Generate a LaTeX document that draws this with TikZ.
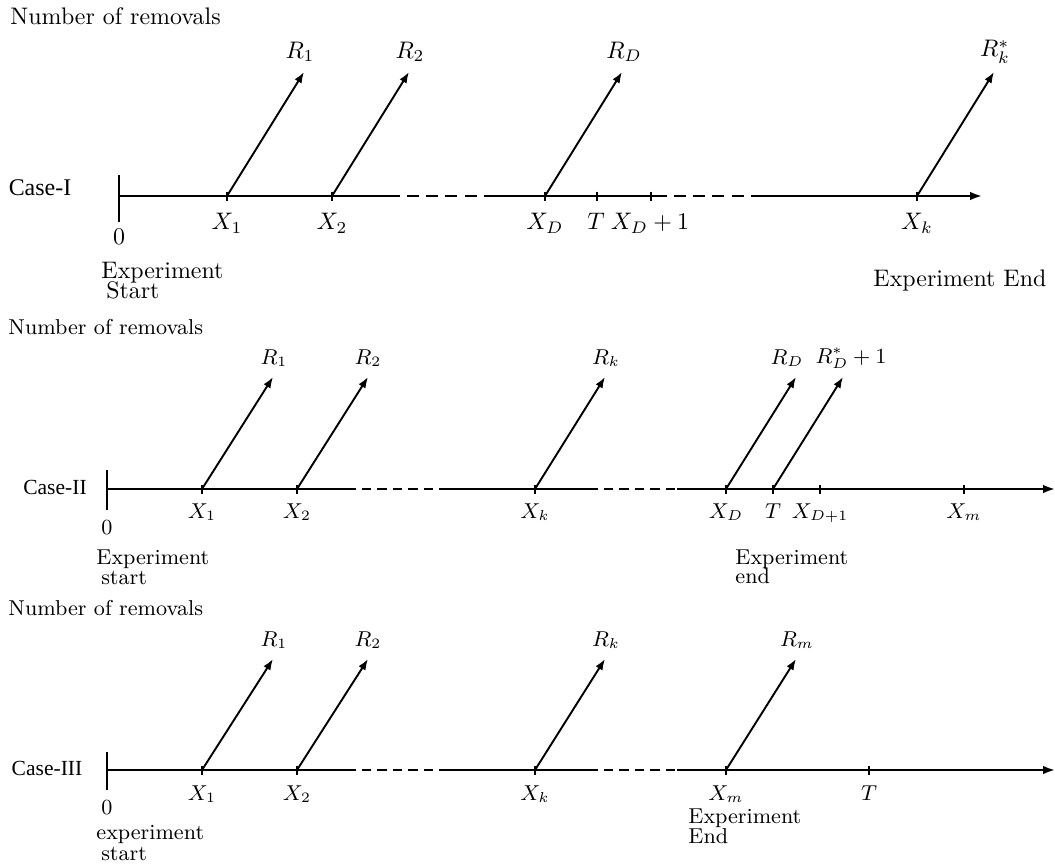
\documentclass[tikz,border=0pt]{standalone}
\usepackage{fontspec}
\newfontfamily\casefont{Liberation Serif}
\usetikzlibrary{arrows.meta}
\begin{document}
\begin{tikzpicture}[x=0.418pt,y=-0.418pt,
  axisline/.style={line width=0.9pt},
  dashsegA/.style={line width=0.9pt, dash pattern=on 5pt off 3pt},
  dashsegB/.style={line width=0.9pt, dash pattern=on 4pt off 2.5pt},
  axisarrow/.style={line width=0.9pt,-{Latex[length=5pt,width=3.6pt]}},
  rem/.style={line width=0.8pt,-{Latex[length=4.6pt,width=3.4pt]}},
  tickmark/.style={line width=0.8pt},
  lbl/.style={inner sep=0pt},
  lblS/.style={inner sep=0pt,font=\small},
  twoline/.style={inner sep=0pt,align=left,anchor=west}
]
\useasboundingbox (0,0) rectangle (1055,867);

%% ---------------- Case I ----------------
\node[lbl,anchor=west] (nr1) at (10,16) {Number of removals};
\node[lbl,font=\casefont] (case1) at (40,188) {Case-I};
\coordinate (o1) at (119,196);
\coordinate (a1) at (388,196);
\coordinate (b1) at (490,196);
\coordinate (c1) at (655,196);
\coordinate (d1) at (755,196);
\coordinate (e1) at (982,196);
\draw[tickmark] (119,175) -- (119,222);
\draw[axisline] (o1) -- (a1);
\draw[dashsegA] (a1) -- (b1);
\draw[axisline] (b1) -- (c1);
\draw[dashsegA] (c1) -- (d1);
\draw[axisarrow] (d1) -- (e1);
\foreach \n/\x in {x1/227,x2/332,xd/545,t/597,xd1/651,xk/917}{
  \coordinate (I\n) at (\x,196);
  \draw[tickmark] (\x,191.5) -- (\x,200.5);
}
\coordinate (IR1) at (304,72);
\coordinate (IR2) at (409,72);
\coordinate (IRD) at (622,72);
\coordinate (IRk) at (994,72);
\draw[rem] (Ix1) -- (IR1);
\draw[rem] (Ix2) -- (IR2);
\draw[rem] (Ixd) -- (IRD);
\draw[rem] (Ixk) -- (IRk);
\node[lbl] (lR1) at (300,52) {$R_1$};
\node[lbl] (lR2) at (410,52) {$R_2$};
\node[lbl] (lRD) at (624,52) {$R_D$};
\node[lbl] (lRk) at (995,52) {$R_k^*$};
\node[lbl,anchor=north] (lX1) at (227,213) {$X_1$};
\node[lbl,anchor=north] (lX2) at (332,213) {$X_2$};
\node[lbl,anchor=north] (lXD) at (545,213) {$X_D$};
\node[lbl,anchor=north] (lT)  at (596,213) {$T$};
\node[lbl,anchor=north] (lXD1) at (650,213) {$X_D+1$};
\node[lbl,anchor=north] (lXk) at (917,213) {$X_k$};
\node[lbl,anchor=north] (z1) at (119,229) {$0$};
\node[twoline] (st1) at (101,281) {Experiment\\[-3.6pt]\hspace{2pt}Start};
\node[lbl,anchor=west] (en1) at (873,281) {Experiment End};

%% ---------------- Case II ----------------
\node[lblS,anchor=west] (nr2) at (8,327) {Number of removals};
\node[lbl,font=\casefont\small] (case2) at (55,487) {Case-II};
\coordinate (o2) at (107,489);
\coordinate (a2) at (346,489);
\coordinate (b2) at (440,489);
\coordinate (c2) at (588,489);
\coordinate (d2) at (677,489);
\coordinate (e2) at (1055,489);
\draw[tickmark] (107,470) -- (107,510);
\draw[axisline] (o2) -- (a2);
\draw[dashsegB] (a2) -- (b2);
\draw[axisline] (b2) -- (c2);
\draw[dashsegB] (c2) -- (d2);
\draw[axisarrow] (d2) -- (e2);
\foreach \n/\x in {x1/202,x2/297,xk/535,xd/726,t/773,xd1/820,xm/964}{
  \coordinate (II\n) at (\x,489);
  \draw[tickmark] (\x,485) -- (\x,493.5);
}
\coordinate (IIR1) at (273,377);
\coordinate (IIR2) at (368,377);
\coordinate (IIRk) at (605,377);
\coordinate (IIRD) at (796,377);
\coordinate (IIRD1) at (843,377);
\draw[rem] (IIx1) -- (IIR1);
\draw[rem] (IIx2) -- (IIR2);
\draw[rem] (IIxk) -- (IIRk);
\draw[rem] (IIxd) -- (IIRD);
\draw[rem] (IIt) -- (IIRD1);
\node[lblS] (mR1) at (274,358) {$R_1$};
\node[lblS] (mR2) at (368,358) {$R_2$};
\node[lblS] (mRk) at (606,358) {$R_k$};
\node[lblS] (mRD) at (787,358) {$R_D$};
\node[lblS] (mRD1) at (851,358) {$R_D^{*}+1$};
\node[lblS,anchor=north] (mX1) at (202,503) {$X_1$};
\node[lblS,anchor=north] (mX2) at (297,503) {$X_2$};
\node[lblS,anchor=north] (mXk) at (535,503) {$X_k$};
\node[lblS,anchor=north] (mXD) at (726,503) {$X_D$};
\node[lblS,anchor=north] (mT)  at (773,503) {$T$};
\node[lblS,anchor=north] (mXD1) at (820,503) {$X_{D+1}$};
\node[lblS,anchor=north] (mXm) at (964,503) {$X_m$};
\node[lblS,anchor=north] (z2) at (107,520) {$0$};
\node[twoline,font=\small] (st2) at (96,567) {Experiment\\[-2.6pt]\hspace{2pt}start};
\node[twoline,font=\small] (en2) at (735,567) {Experiment\\[-3.2pt]end};

%% ---------------- Case III ----------------
\node[lblS,anchor=west] (nr3) at (8,608) {Number of removals};
\node[lbl,font=\casefont\small] (case3) at (47,768) {Case-III};
\coordinate (o3) at (107,770);
\coordinate (a3) at (346,770);
\coordinate (b3) at (440,770);
\coordinate (c3) at (588,770);
\coordinate (d3) at (677,770);
\coordinate (e3) at (1055,770);
\draw[tickmark] (107,752) -- (107,790);
\draw[axisline] (o3) -- (a3);
\draw[dashsegB] (a3) -- (b3);
\draw[axisline] (b3) -- (c3);
\draw[dashsegB] (c3) -- (d3);
\draw[axisarrow] (d3) -- (e3);
\foreach \n/\x in {x1/202,x2/297,xk/535,xm/726,t/869}{
  \coordinate (III\n) at (\x,770);
  \draw[tickmark] (\x,766) -- (\x,774.5);
}
\coordinate (IIIR1) at (273,659);
\coordinate (IIIR2) at (368,659);
\coordinate (IIIRk) at (605,659);
\coordinate (IIIRm) at (796,659);
\draw[rem] (IIIx1) -- (IIIR1);
\draw[rem] (IIIx2) -- (IIIR2);
\draw[rem] (IIIxk) -- (IIIRk);
\draw[rem] (IIIxm) -- (IIIRm);
\node[lblS] (pR1) at (274,640) {$R_1$};
\node[lblS] (pR2) at (368,640) {$R_2$};
\node[lblS] (pRk) at (606,640) {$R_k$};
\node[lblS] (pRm) at (797,640) {$R_m$};
\node[lblS,anchor=north] (pX1) at (202,785) {$X_1$};
\node[lblS,anchor=north] (pX2) at (297,785) {$X_2$};
\node[lblS,anchor=north] (pXk) at (535,785) {$X_k$};
\node[lblS,anchor=north] (pXm) at (726,785) {$X_m$};
\node[lblS,anchor=north] (pT)  at (869,785) {$T$};
\node[lblS,anchor=north] (z3) at (107,800) {$0$};
\node[twoline,font=\small] (st3) at (96,843) {experiment\\[-2.6pt]\hspace{2pt}start};
\node[twoline,font=\small] (en3) at (688,826) {Experiment\\[-2.6pt]End};
\end{tikzpicture}
\end{document}
